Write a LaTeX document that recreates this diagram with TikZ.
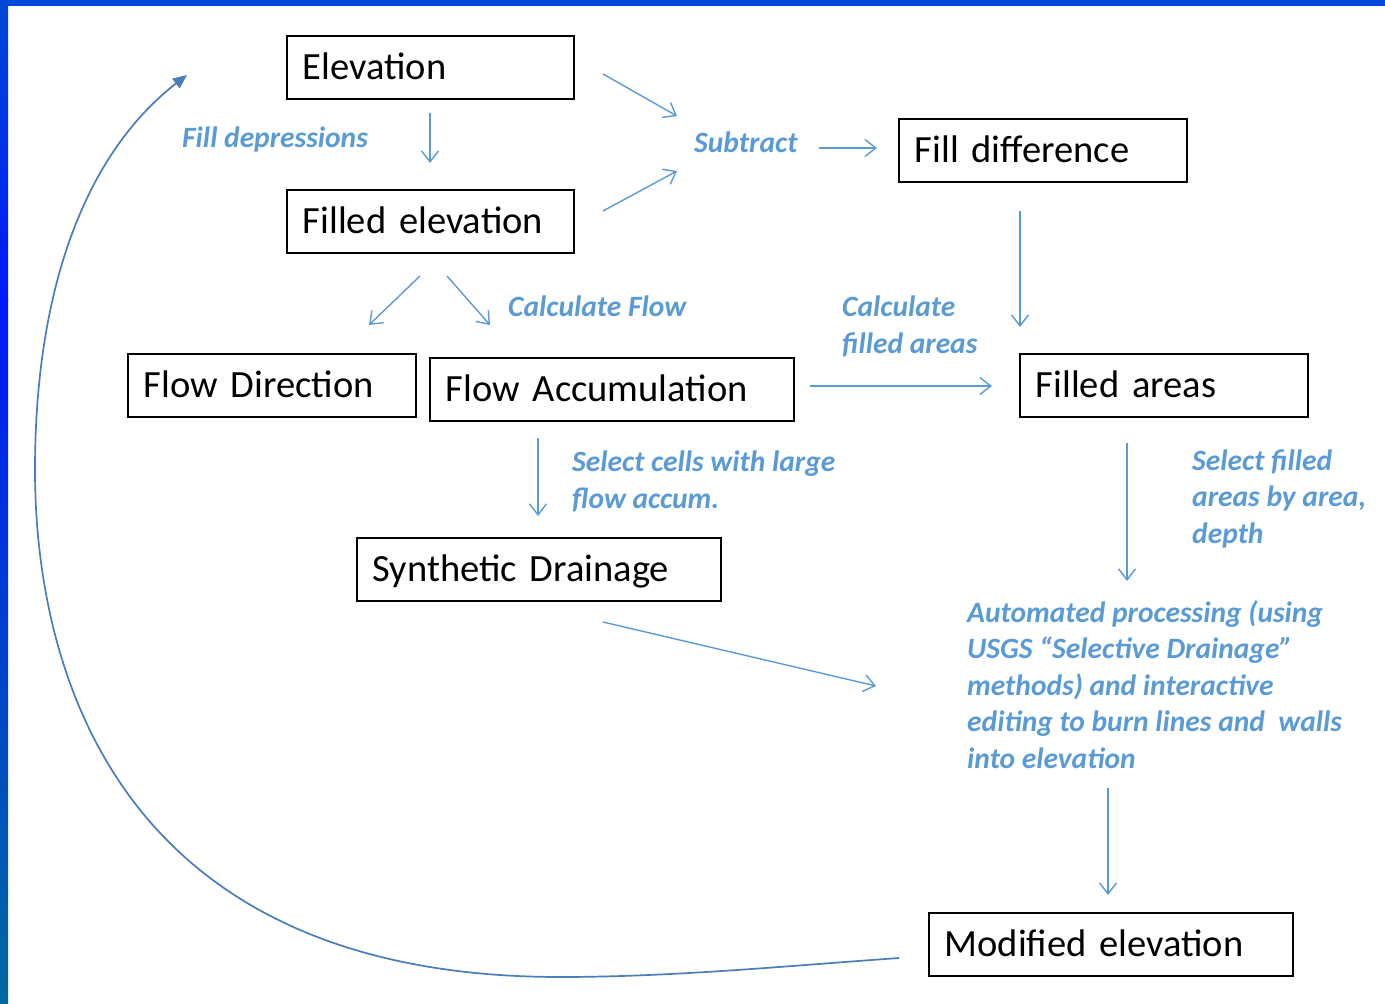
\documentclass[tikz,border=0pt]{standalone}
\usepackage{fontspec}
\setmainfont{Carlito}
\usetikzlibrary{arrows.meta}
\definecolor{lblue}{RGB}{91,155,213}
\definecolor{cblue}{RGB}{74,126,187}
\definecolor{bandtop}{RGB}{0,72,215}
\definecolor{bandmid}{RGB}{0,25,250}
\definecolor{bandbot}{RGB}{0,105,160}
\begin{document}
\begin{tikzpicture}[x=1pt,y=-1pt,
  box/.style={draw=black, line width=1.5pt, anchor=north west, minimum height=63pt,
    inner xsep=16pt, inner ysep=0pt, align=left, text height=30pt, text depth=6pt,
    font=\fontsize{38.5}{40}\selectfont},
  lab/.style={text=lblue, anchor=base west, inner sep=0pt, align=left,
    font=\fontsize{29.5}{36.5}\selectfont\bfseries\itshape},
  arr/.style={draw=lblue, line width=1.4pt, -{Straight Barb[length=11pt,width=17pt]}},
  loop/.style={draw=cblue, line width=1.7pt, -{Triangle[length=14pt,width=12pt]}}]
\useasboundingbox (0,0) rectangle (1385,1004);
\fill[white] (0,0) rectangle (1385,1004);
\fill[bandtop] (0,0) rectangle (1385,6);
\shade[top color=bandtop, bottom color=bandmid] (0,0) rectangle (8,300);
\shade[top color=bandmid, bottom color=bandbot] (0,299.5) rectangle (8,1004);

% boxes
\node[box, text width=255pt] (elev) at (286,35) {Elevation};
\node[box, text width=255pt] (felev) at (286,189) {Filled elevation};
\node[box, text width=256pt] (fdiff) at (898,118) {Fill difference};
\node[box, text width=256pt] (fdir) at (127,353) {Flow Direction};
\node[box, text width=332pt] (facc) at (429,357) {Flow Accumulation};
\node[box, text width=256pt] (fareas) at (1019,353) {Filled areas};
\node[box, text width=332pt] (synth) at (356,537) {Synthetic Drainage};
\node[box, text width=332pt] (model) at (928,912) {Modified elevation};

% labels (anchor = baseline of last line)
\node[lab] (lfill) at (182,147) {Fill depressions};
\node[lab] (lsub) at (694,152) {Subtract};
\node[lab] (lcalc) at (508,316) {Calculate Flow};
\node[lab] (lcfa) at (842,353) {Calculate\\filled areas};
\node[lab] (lsel) at (572,508) {Select cells with large\\flow accum.};
\node[lab] (lsfa) at (1192,543) {Select filled\\areas by area,\\depth};
\node[lab] (lauto) at (967,768) {Automated processing (using\\USGS \textquotedblleft Selective Drainage\textquotedblright\\methods) and interactive\\editing to burn lines and\ \ walls\\into elevation};

% connector end points
\coordinate (a1s) at (430,113); \coordinate (a1e) at (430,163);
\coordinate (a2s) at (603,74);  \coordinate (a2e) at (677,116);
\coordinate (a3s) at (603,211); \coordinate (a3e) at (677,171);
\coordinate (a4s) at (819,148); \coordinate (a4e) at (877,148);
\coordinate (a5s) at (420,276); \coordinate (a5e) at (369,325);
\coordinate (a6s) at (447,276); \coordinate (a6e) at (490,325);
\coordinate (a7s) at (1020,211); \coordinate (a7e) at (1020,327);
\coordinate (a8s) at (810,386); \coordinate (a8e) at (992,386);
\coordinate (a9s) at (538,438); \coordinate (a9e) at (538,516);
\coordinate (a10s) at (1127,443); \coordinate (a10e) at (1127,581);
\coordinate (a11s) at (603,622); \coordinate (a11e) at (876,686);
\coordinate (a12s) at (1108,788); \coordinate (a12e) at (1108,895);

\draw[arr] (a1s) -- (a1e);
\draw[arr] (a2s) -- (a2e);
\draw[arr] (a3s) -- (a3e);
\draw[arr] (a4s) -- (a4e);
\draw[arr] (a5s) -- (a5e);
\draw[arr] (a6s) -- (a6e);
\draw[arr] (a7s) -- (a7e);
\draw[arr] (a8s) -- (a8e);
\draw[arr] (a9s) -- (a9e);
\draw[arr] (a10s) -- (a10e);
\draw[arr] (a11s) -- (a11e);
\draw[arr] (a12s) -- (a12e);

% feedback loop
\coordinate (ls) at (899,958);
\coordinate (l1) at (560,977);
\coordinate (l2) at (35,470);
\coordinate (le) at (187,75);
\draw[loop] (ls) .. controls (786,966) and (673,977) .. (l1)
  .. controls (87,977) and (35,628) .. (l2)
  .. controls (35,280) and (90,150) .. (le);
\end{tikzpicture}
\end{document}
